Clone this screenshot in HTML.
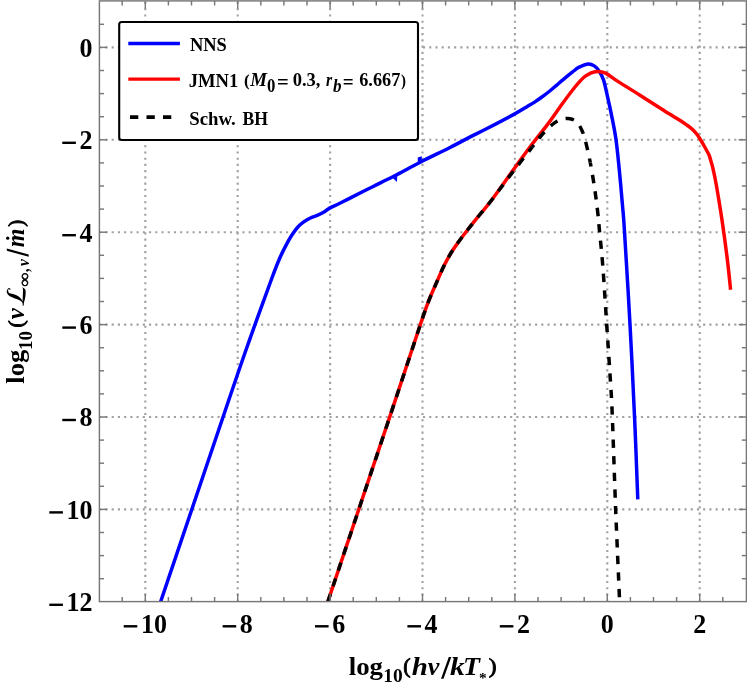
<!DOCTYPE html>
<html><head><meta charset="utf-8"><title>plot</title>
<style>
html,body{margin:0;padding:0;background:#fff;}
body{width:747px;height:685px;overflow:hidden;font-family:"Liberation Serif",serif;}
svg{display:block;will-change:transform;}
text{font-family:"Liberation Serif",serif;fill:#000;}
</style></head><body>
<svg width="747" height="685" viewBox="0 0 747 685">
<rect x="0" y="0" width="747" height="685" fill="#fff"/>
<defs><clipPath id="cp"><rect x="99.40" y="0.90" width="647.00" height="600.70"/></clipPath></defs>

<g stroke="#a0a0a0" stroke-width="2.1" stroke-dasharray="2.1 4.1263" stroke-dashoffset="1.05" fill="none">
<line x1="145.30" y1="600.75" x2="145.30" y2="0.90"/>
<line x1="237.70" y1="600.75" x2="237.70" y2="0.90"/>
<line x1="330.10" y1="600.75" x2="330.10" y2="0.90"/>
<line x1="422.50" y1="600.75" x2="422.50" y2="0.90"/>
<line x1="514.90" y1="600.75" x2="514.90" y2="0.90"/>
<line x1="607.30" y1="600.75" x2="607.30" y2="0.90"/>
<line x1="699.70" y1="600.75" x2="699.70" y2="0.90"/>
<line x1="100.25" y1="509.40" x2="746.40" y2="509.40"/>
<line x1="100.25" y1="417.00" x2="746.40" y2="417.00"/>
<line x1="100.25" y1="324.60" x2="746.40" y2="324.60"/>
<line x1="100.25" y1="232.20" x2="746.40" y2="232.20"/>
<line x1="100.25" y1="139.80" x2="746.40" y2="139.80"/>
<line x1="100.25" y1="47.40" x2="746.40" y2="47.40"/>
</g>
<g clip-path="url(#cp)" fill="none" stroke-linejoin="round">
<path d="M159.00,606.50 C159.28,605.67 149.07,635.92 160.70,601.50 C172.33,567.08 213.92,443.82 228.80,400.00 C243.68,356.18 242.93,358.60 250.00,338.60 C257.07,318.60 266.25,293.38 271.20,280.00 C276.15,266.62 276.86,264.77 279.70,258.30 C282.54,251.83 285.95,245.47 288.25,241.20 C290.55,236.93 291.86,235.10 293.50,232.70 C295.14,230.30 296.45,228.55 298.10,226.80 C299.75,225.05 301.43,223.62 303.40,222.20 C305.37,220.77 307.50,219.42 309.90,218.25 C312.30,217.08 315.60,216.14 317.80,215.20 C320.00,214.26 321.35,213.63 323.10,212.60 C324.85,211.57 326.88,209.92 328.30,209.00 C329.72,208.08 329.85,207.97 331.60,207.10 C333.35,206.23 335.73,205.30 338.80,203.80 C341.87,202.30 344.35,200.95 350.00,198.10 C355.65,195.25 365.33,190.38 372.70,186.70 C380.07,183.02 386.28,180.08 394.20,176.00 C402.12,171.92 410.90,166.95 420.20,162.20 C429.50,157.45 441.58,151.77 450.00,147.50 C458.42,143.23 464.70,139.68 470.70,136.60 C476.70,133.52 478.58,132.83 486.00,129.00 C493.42,125.17 508.32,117.35 515.20,113.60 C522.08,109.85 524.07,108.42 527.30,106.50 C530.53,104.58 532.17,103.68 534.60,102.10 C537.03,100.52 539.47,98.77 541.90,97.00 C544.33,95.23 546.77,93.45 549.20,91.50 C551.63,89.55 554.07,87.37 556.50,85.30 C558.93,83.23 561.55,80.98 563.80,79.10 C566.05,77.22 568.10,75.55 570.00,74.00 C571.90,72.45 573.60,70.98 575.20,69.80 C576.80,68.62 577.43,67.87 579.60,66.90 C581.77,65.93 585.70,64.13 588.20,64.00 C590.70,63.87 592.80,64.95 594.60,66.10 C596.40,67.25 597.52,68.60 599.00,70.90 C600.48,73.20 602.13,75.85 603.50,79.90 C604.87,83.95 605.92,89.58 607.20,95.20 C608.48,100.82 609.77,106.43 611.20,113.60 C612.63,120.77 614.47,129.00 615.80,138.20 C617.13,147.40 618.08,157.57 619.20,168.80 C620.32,180.03 621.63,195.40 622.50,205.60 C623.37,215.80 623.15,210.20 624.40,230.00 C625.65,249.80 628.28,292.68 630.00,324.40 C631.72,356.12 633.40,391.13 634.70,420.30 C636.00,449.47 637.28,486.22 637.80,499.40" stroke="#0000ff" stroke-width="3.5"/>
<path d="M417.75,162 L417.75,157.45 L421.8,156.2 L421.8,160.5z M392.85,177.9 L397.3,176.0 L396.9,181.95z" fill="#0000ff" stroke="none"/>
<path d="M326.20,606.50 C326.48,605.67 316.93,634.23 327.90,601.50 C338.87,568.77 376.55,456.38 392.00,410.10 C407.45,363.82 414.52,341.90 420.60,323.80 C426.68,305.70 425.90,308.23 428.50,301.50 C431.10,294.77 433.63,289.32 436.20,283.40 C438.77,277.48 441.33,271.23 443.90,266.00 C446.47,260.77 449.05,256.17 451.60,252.00 C454.15,247.83 456.48,244.75 459.20,241.00 C461.92,237.25 464.52,233.83 467.90,229.50 C471.28,225.17 475.53,219.92 479.50,215.00 C483.47,210.08 485.75,207.95 491.70,200.00 C497.65,192.05 508.48,176.58 515.20,167.30 C521.92,158.02 526.63,151.42 532.00,144.30 C537.37,137.18 542.28,131.45 547.40,124.60 C552.52,117.75 558.10,109.47 562.70,103.20 C567.30,96.93 571.42,91.37 575.00,87.00 C578.58,82.63 581.65,79.28 584.20,77.00 C586.75,74.72 588.15,74.23 590.30,73.30 C592.45,72.37 594.55,71.43 597.10,71.40 C599.65,71.37 602.13,71.43 605.60,73.10 C609.07,74.77 612.17,77.72 617.90,81.40 C623.63,85.08 632.98,90.77 640.00,95.20 C647.02,99.63 655.00,104.82 660.00,108.00 C665.00,111.18 666.63,112.22 670.00,114.30 C673.37,116.38 676.80,118.27 680.20,120.50 C683.60,122.73 687.67,125.48 690.40,127.70 C693.13,129.92 695.07,132.03 696.60,133.80 C698.13,135.57 698.38,136.35 699.60,138.30 C700.82,140.25 702.45,142.97 703.90,145.50 C705.35,148.03 707.38,151.77 708.30,153.50 C709.22,155.23 708.97,154.65 709.40,155.90 C709.83,157.15 710.25,158.65 710.90,161.00 C711.55,163.35 712.40,166.00 713.30,170.00 C714.20,174.00 714.85,176.67 716.30,185.00 C717.75,193.33 720.15,207.50 722.00,220.00 C723.85,232.50 725.97,248.37 727.40,260.00 C728.83,271.63 730.07,284.83 730.60,289.80" stroke="#ff0000" stroke-width="3.5"/>
<path d="M326.20,606.50 C326.48,605.67 316.93,634.23 327.90,601.50 C338.87,568.77 376.55,456.38 392.00,410.10 C407.45,363.82 414.52,341.90 420.60,323.80 C426.68,305.70 425.90,308.23 428.50,301.50 C431.10,294.77 433.63,289.32 436.20,283.40 C438.77,277.48 441.33,271.23 443.90,266.00 C446.47,260.77 449.05,256.17 451.60,252.00 C454.15,247.83 456.48,244.75 459.20,241.00 C461.92,237.25 464.52,233.83 467.90,229.50 C471.28,225.17 475.53,219.92 479.50,215.00 C483.47,210.08 486.95,206.12 491.70,200.00 C496.45,193.88 503.25,184.55 508.00,178.30 C512.75,172.05 516.15,167.72 520.20,162.50 C524.25,157.28 528.78,151.50 532.30,147.00" stroke="#000000" stroke-width="3.5" stroke-dasharray="8.3 8.3" stroke-dashoffset="5.70"/>
<path d="M532.30,147.00 C535.82,142.50 538.05,139.17 541.30,135.50 C544.55,131.83 548.68,127.60 551.80,125.00 C554.92,122.40 557.27,120.98 560.00,119.90 C562.73,118.82 565.48,118.23 568.20,118.50 C570.92,118.77 574.05,119.60 576.30,121.50 C578.55,123.40 580.20,126.75 581.70,129.90 C583.20,133.05 583.87,134.93 585.30,140.40 C586.73,145.87 588.70,154.38 590.30,162.70" stroke="#000000" stroke-width="3.5" stroke-dasharray="8.524 8.524" stroke-dashoffset="6.231"/>
<path d="M590.30,162.70 C591.90,171.02 593.62,181.62 594.90,190.30 C596.18,198.98 597.25,208.18 598.00,214.80 C598.75,221.42 598.60,221.47 599.40,230.00 C600.20,238.53 601.58,250.27 602.80,266.00 C604.02,281.73 605.50,306.33 606.70,324.40 C607.90,342.47 609.08,359.58 610.00,374.40 C610.92,389.22 611.27,391.07 612.20,413.30 C613.13,435.53 614.40,477.23 615.60,507.80 C616.80,538.37 618.72,580.33 619.40,596.70 C620.08,613.07 619.65,604.45 619.70,606.00" stroke="#000000" stroke-width="3.5" stroke-dasharray="8.3 8.3" stroke-dashoffset="4.20"/>
</g>
<g stroke="#787878" stroke-width="1.45" fill="none">
<rect x="99.40" y="0.90" width="647.00" height="600.70"/>
<line x1="122.20" y1="601.60" x2="122.20" y2="597.00"/>
<line x1="122.20" y1="0.90" x2="122.20" y2="5.50"/>
<line x1="145.30" y1="601.60" x2="145.30" y2="593.80"/>
<line x1="145.30" y1="0.90" x2="145.30" y2="8.70"/>
<line x1="168.40" y1="601.60" x2="168.40" y2="597.00"/>
<line x1="168.40" y1="0.90" x2="168.40" y2="5.50"/>
<line x1="191.50" y1="601.60" x2="191.50" y2="597.00"/>
<line x1="191.50" y1="0.90" x2="191.50" y2="5.50"/>
<line x1="214.60" y1="601.60" x2="214.60" y2="597.00"/>
<line x1="214.60" y1="0.90" x2="214.60" y2="5.50"/>
<line x1="237.70" y1="601.60" x2="237.70" y2="593.80"/>
<line x1="237.70" y1="0.90" x2="237.70" y2="8.70"/>
<line x1="260.80" y1="601.60" x2="260.80" y2="597.00"/>
<line x1="260.80" y1="0.90" x2="260.80" y2="5.50"/>
<line x1="283.90" y1="601.60" x2="283.90" y2="597.00"/>
<line x1="283.90" y1="0.90" x2="283.90" y2="5.50"/>
<line x1="307.00" y1="601.60" x2="307.00" y2="597.00"/>
<line x1="307.00" y1="0.90" x2="307.00" y2="5.50"/>
<line x1="330.10" y1="601.60" x2="330.10" y2="593.80"/>
<line x1="330.10" y1="0.90" x2="330.10" y2="8.70"/>
<line x1="353.20" y1="601.60" x2="353.20" y2="597.00"/>
<line x1="353.20" y1="0.90" x2="353.20" y2="5.50"/>
<line x1="376.30" y1="601.60" x2="376.30" y2="597.00"/>
<line x1="376.30" y1="0.90" x2="376.30" y2="5.50"/>
<line x1="399.40" y1="601.60" x2="399.40" y2="597.00"/>
<line x1="399.40" y1="0.90" x2="399.40" y2="5.50"/>
<line x1="422.50" y1="601.60" x2="422.50" y2="593.80"/>
<line x1="422.50" y1="0.90" x2="422.50" y2="8.70"/>
<line x1="445.60" y1="601.60" x2="445.60" y2="597.00"/>
<line x1="445.60" y1="0.90" x2="445.60" y2="5.50"/>
<line x1="468.70" y1="601.60" x2="468.70" y2="597.00"/>
<line x1="468.70" y1="0.90" x2="468.70" y2="5.50"/>
<line x1="491.80" y1="601.60" x2="491.80" y2="597.00"/>
<line x1="491.80" y1="0.90" x2="491.80" y2="5.50"/>
<line x1="514.90" y1="601.60" x2="514.90" y2="593.80"/>
<line x1="514.90" y1="0.90" x2="514.90" y2="8.70"/>
<line x1="538.00" y1="601.60" x2="538.00" y2="597.00"/>
<line x1="538.00" y1="0.90" x2="538.00" y2="5.50"/>
<line x1="561.10" y1="601.60" x2="561.10" y2="597.00"/>
<line x1="561.10" y1="0.90" x2="561.10" y2="5.50"/>
<line x1="584.20" y1="601.60" x2="584.20" y2="597.00"/>
<line x1="584.20" y1="0.90" x2="584.20" y2="5.50"/>
<line x1="607.30" y1="601.60" x2="607.30" y2="593.80"/>
<line x1="607.30" y1="0.90" x2="607.30" y2="8.70"/>
<line x1="630.40" y1="601.60" x2="630.40" y2="597.00"/>
<line x1="630.40" y1="0.90" x2="630.40" y2="5.50"/>
<line x1="653.50" y1="601.60" x2="653.50" y2="597.00"/>
<line x1="653.50" y1="0.90" x2="653.50" y2="5.50"/>
<line x1="676.60" y1="601.60" x2="676.60" y2="597.00"/>
<line x1="676.60" y1="0.90" x2="676.60" y2="5.50"/>
<line x1="699.70" y1="601.60" x2="699.70" y2="593.80"/>
<line x1="699.70" y1="0.90" x2="699.70" y2="8.70"/>
<line x1="722.80" y1="601.60" x2="722.80" y2="597.00"/>
<line x1="722.80" y1="0.90" x2="722.80" y2="5.50"/>
<line x1="99.40" y1="578.70" x2="104.00" y2="578.70"/>
<line x1="746.40" y1="578.70" x2="741.80" y2="578.70"/>
<line x1="99.40" y1="555.60" x2="104.00" y2="555.60"/>
<line x1="746.40" y1="555.60" x2="741.80" y2="555.60"/>
<line x1="99.40" y1="532.50" x2="104.00" y2="532.50"/>
<line x1="746.40" y1="532.50" x2="741.80" y2="532.50"/>
<line x1="99.40" y1="509.40" x2="107.20" y2="509.40"/>
<line x1="746.40" y1="509.40" x2="738.60" y2="509.40"/>
<line x1="99.40" y1="486.30" x2="104.00" y2="486.30"/>
<line x1="746.40" y1="486.30" x2="741.80" y2="486.30"/>
<line x1="99.40" y1="463.20" x2="104.00" y2="463.20"/>
<line x1="746.40" y1="463.20" x2="741.80" y2="463.20"/>
<line x1="99.40" y1="440.10" x2="104.00" y2="440.10"/>
<line x1="746.40" y1="440.10" x2="741.80" y2="440.10"/>
<line x1="99.40" y1="417.00" x2="107.20" y2="417.00"/>
<line x1="746.40" y1="417.00" x2="738.60" y2="417.00"/>
<line x1="99.40" y1="393.90" x2="104.00" y2="393.90"/>
<line x1="746.40" y1="393.90" x2="741.80" y2="393.90"/>
<line x1="99.40" y1="370.80" x2="104.00" y2="370.80"/>
<line x1="746.40" y1="370.80" x2="741.80" y2="370.80"/>
<line x1="99.40" y1="347.70" x2="104.00" y2="347.70"/>
<line x1="746.40" y1="347.70" x2="741.80" y2="347.70"/>
<line x1="99.40" y1="324.60" x2="107.20" y2="324.60"/>
<line x1="746.40" y1="324.60" x2="738.60" y2="324.60"/>
<line x1="99.40" y1="301.50" x2="104.00" y2="301.50"/>
<line x1="746.40" y1="301.50" x2="741.80" y2="301.50"/>
<line x1="99.40" y1="278.40" x2="104.00" y2="278.40"/>
<line x1="746.40" y1="278.40" x2="741.80" y2="278.40"/>
<line x1="99.40" y1="255.30" x2="104.00" y2="255.30"/>
<line x1="746.40" y1="255.30" x2="741.80" y2="255.30"/>
<line x1="99.40" y1="232.20" x2="107.20" y2="232.20"/>
<line x1="746.40" y1="232.20" x2="738.60" y2="232.20"/>
<line x1="99.40" y1="209.10" x2="104.00" y2="209.10"/>
<line x1="746.40" y1="209.10" x2="741.80" y2="209.10"/>
<line x1="99.40" y1="186.00" x2="104.00" y2="186.00"/>
<line x1="746.40" y1="186.00" x2="741.80" y2="186.00"/>
<line x1="99.40" y1="162.90" x2="104.00" y2="162.90"/>
<line x1="746.40" y1="162.90" x2="741.80" y2="162.90"/>
<line x1="99.40" y1="139.80" x2="107.20" y2="139.80"/>
<line x1="746.40" y1="139.80" x2="738.60" y2="139.80"/>
<line x1="99.40" y1="116.70" x2="104.00" y2="116.70"/>
<line x1="746.40" y1="116.70" x2="741.80" y2="116.70"/>
<line x1="99.40" y1="93.60" x2="104.00" y2="93.60"/>
<line x1="746.40" y1="93.60" x2="741.80" y2="93.60"/>
<line x1="99.40" y1="70.50" x2="104.00" y2="70.50"/>
<line x1="746.40" y1="70.50" x2="741.80" y2="70.50"/>
<line x1="99.40" y1="47.40" x2="107.20" y2="47.40"/>
<line x1="746.40" y1="47.40" x2="738.60" y2="47.40"/>
<line x1="99.40" y1="24.30" x2="104.00" y2="24.30"/>
<line x1="746.40" y1="24.30" x2="741.80" y2="24.30"/>
</g>
<g font-size="26.0" font-weight="bold">
<rect x="123.70" y="625.10" width="13.60" height="2.40"/>
<text transform="translate(140.90,632.60) scale(1,1.055)" text-anchor="start">10</text>
<rect x="222.60" y="625.10" width="13.60" height="2.40"/>
<text transform="translate(239.80,632.60) scale(1,1.055)" text-anchor="start">8</text>
<rect x="315.00" y="625.10" width="13.60" height="2.40"/>
<text transform="translate(332.20,632.60) scale(1,1.055)" text-anchor="start">6</text>
<rect x="407.40" y="625.10" width="13.60" height="2.40"/>
<text transform="translate(424.60,632.60) scale(1,1.055)" text-anchor="start">4</text>
<rect x="499.80" y="625.10" width="13.60" height="2.40"/>
<text transform="translate(517.00,632.60) scale(1,1.055)" text-anchor="start">2</text>
<text transform="translate(607.30,632.60) scale(1,1.055)" text-anchor="middle">0</text>
<text transform="translate(699.70,632.60) scale(1,1.055)" text-anchor="middle">2</text>
<text transform="translate(92.50,611.10) scale(1,1.055)" text-anchor="end">12</text>
<rect x="49.30" y="603.60" width="13.60" height="2.40"/>
<text transform="translate(92.50,518.70) scale(1,1.055)" text-anchor="end">10</text>
<rect x="49.30" y="511.20" width="13.60" height="2.40"/>
<text transform="translate(92.50,426.30) scale(1,1.055)" text-anchor="end">8</text>
<rect x="62.30" y="418.80" width="13.60" height="2.40"/>
<text transform="translate(92.50,333.90) scale(1,1.055)" text-anchor="end">6</text>
<rect x="62.30" y="326.40" width="13.60" height="2.40"/>
<text transform="translate(92.50,241.50) scale(1,1.055)" text-anchor="end">4</text>
<rect x="62.30" y="234.00" width="13.60" height="2.40"/>
<text transform="translate(92.50,149.10) scale(1,1.055)" text-anchor="end">2</text>
<rect x="62.30" y="141.60" width="13.60" height="2.40"/>
<text transform="translate(92.50,56.70) scale(1,1.055)" text-anchor="end">0</text>
</g>
<g id="xl">
<text transform="translate(348.68,674.80) scale(1.0481,1.0000)" font-size="25.60" font-weight="bold">log</text>
<text transform="translate(383.14,681.80) scale(0.9951,1.0000)" font-size="19.60" font-weight="bold">10</text>
<text transform="translate(403.37,673.15) scale(0.8536,0.8314)" font-size="26.00" font-weight="normal" stroke="#000" stroke-width="1.07" stroke-linejoin="round">(</text>
<text transform="translate(411.73,674.80) scale(1.1140,1.0000)" font-size="26.00" font-weight="bold" font-style="italic">h</text>
<text transform="translate(427.66,674.80) scale(1.0063,1.0000)" font-size="26.00" font-weight="bold" font-style="italic">ν</text>
<polygon points="441.0,678.8 443.5,678.8 451.3,657.1 448.8,657.1"/>
<text transform="translate(450.00,674.80) scale(1.1333,1.0000)" font-size="26.00" font-weight="bold" font-style="italic">k</text>
<text transform="translate(463.09,674.80) scale(1.0646,1.0000)" font-size="26.00" font-weight="bold" font-style="italic">T</text>
<text transform="translate(479.06,682.92) scale(0.5903,0.5612)" font-size="26.00" font-weight="bold">*</text>
<text transform="translate(488.70,673.15) scale(0.8985,0.8314)" font-size="26.00" font-weight="normal" stroke="#000" stroke-width="1.04" stroke-linejoin="round">)</text>
</g>
<g id="yl" transform="translate(24.2,383.5) rotate(-90)">
<text transform="translate(-0.22,0.00) scale(1.0387,1.0000)" font-size="25.60" font-weight="bold">log</text>
<text transform="translate(33.57,7.60) scale(0.9720,1.0000)" font-size="19.60" font-weight="bold">10</text>
<text transform="translate(56.01,-1.61) scale(0.8236,0.8059)" font-size="26.00" font-weight="normal" stroke="#000" stroke-width="1.10" stroke-linejoin="round">(</text>
<text transform="translate(64.17,0.00) scale(0.9629,1.0000)" font-size="26.00" font-weight="bold" font-style="italic">ν</text>
<path transform="translate(77.63,1.67)" d="M12.48,-18.6 C13.5,-19.3 14.8,-19.3 15.55,-18.8 C16.8,-18.3 17.9,-17.8 17.96,-16.9 C18.0,-16.0 17.2,-15.2 16.43,-15.3 L16.0,-15.8 C16.5,-16.2 16.9,-16.8 16.6,-17.3 C16.2,-17.9 15.6,-17.9 15.1,-17.7 C14.2,-17.5 13.7,-17.5 13.36,-17.3 C12.7,-16.6 12.4,-15.8 12.26,-15.1 C11.9,-13.5 11.6,-12.2 11.17,-10.7 C10.8,-9.4 10.2,-8.3 9.42,-7.2 C8.6,-6.1 7.8,-5.3 6.79,-4.6 C6.0,-4.0 5.3,-3.6 4.6,-3.3 C6,-3.2 8,-3.1 9.4,-3.07 C11.5,-3.0 13.5,-2.9 15.1,-2.85 C16.5,-2.8 17.8,-3.0 18.6,-3.5 C17.9,-1.6 16.6,-0.4 15.1,-0.25 C13,-0.1 11,-0.3 9.4,-0.5 C7.5,-0.75 5.8,-1.2 4.16,-1.7 C2.8,-2.1 1.2,-2.3 0,-2.2 L0,-3.07 C1.2,-3.2 2.3,-3.3 3.29,-3.5 C4.0,-4.1 4.6,-4.8 5.04,-5.5 C5.8,-6.8 6.3,-8.1 6.79,-9.4 C7.4,-11 7.9,-12.5 8.54,-13.8 C9.1,-15.1 9.8,-16.3 10.73,-17.3 C11.2,-17.8 11.8,-18.3 12.48,-18.6 Z"/>
<text transform="translate(97.32,5.49) scale(0.7321,0.6766)" font-size="26.00" font-weight="bold" stroke="#000" stroke-width="0.71" stroke-linejoin="round">∞</text>
<text transform="translate(111.61,4.42) scale(0.5419,0.7647)" font-size="26.00" font-weight="bold">,</text>
<text transform="translate(117.46,4.50) scale(0.9295,1.0000)" font-size="16.50" font-weight="bold" font-style="italic">ν</text>
<polygon points="126.7,4.5 128.9,4.5 135.0,-17.4 132.8,-17.4"/>
<text transform="translate(136.24,0.00) scale(0.9251,1.0000)" font-size="26.00" font-weight="bold" font-style="italic">m</text>
<circle cx="145.3" cy="-16.5" r="1.65"/>
<text transform="translate(156.78,-1.68) scale(0.7937,0.8187)" font-size="26.00" font-weight="normal" stroke="#000" stroke-width="1.12" stroke-linejoin="round">)</text>
</g>
<rect x="119.2" y="22" width="298.8" height="118" rx="2.5" fill="#fff" stroke="#000" stroke-width="2.1"/>
<line x1="128.3" y1="43.5" x2="179.9" y2="43.5" stroke="#0000ff" stroke-width="3.4"/>
<line x1="128.3" y1="79.1" x2="179.9" y2="79.1" stroke="#ff0000" stroke-width="3.4"/>
<line x1="130.0" y1="117.2" x2="172" y2="117.2" stroke="#000" stroke-width="3.7" stroke-dasharray="8.3 8.2"/>
<g id="lg">
<text transform="translate(189.95,50.80) scale(1.0145,1.0000)" font-size="18.20" font-weight="bold">NNS</text>
<text transform="translate(188.67,86.60) scale(1.0220,1.0000)" font-size="18.20" font-weight="bold">JMN1</text>
<text transform="translate(244.05,85.87) scale(0.6589,0.6023)" font-size="26.00" font-weight="bold">(</text>
<text transform="translate(250.25,86.40) scale(1.0510,1.0000)" font-size="17.90" font-weight="bold" font-style="italic">M</text>
<text transform="translate(266.96,91.60) scale(0.8958,1.0000)" font-size="18.70" font-weight="bold">0</text>
<text transform="translate(276.97,89.00) scale(1.1044,1.0700)" font-size="18.70" font-weight="bold">=</text>
<text transform="translate(292.69,86.30) scale(1.0188,1.0000)" font-size="18.20" font-weight="bold">0.3,</text>
<text transform="translate(325.98,86.30) scale(0.8622,1.0000)" font-size="18.20" font-weight="bold" font-style="italic">r</text>
<text transform="translate(332.97,91.80) scale(0.9127,1.0000)" font-size="18.70" font-weight="bold" font-style="italic">b</text>
<text transform="translate(342.75,89.00) scale(1.0239,1.0700)" font-size="18.70" font-weight="bold">=</text>
<text transform="translate(359.17,86.30) scale(1.0054,1.0000)" font-size="18.20" font-weight="bold">6.667</text>
<text transform="translate(401.12,85.87) scale(0.5691,0.6023)" font-size="26.00" font-weight="bold">)</text>
<text transform="translate(189.20,124.90) scale(1.0328,1.0000)" font-size="18.20" font-weight="bold">Schw.</text>
<text transform="translate(242.51,124.90) scale(0.9692,1.0000)" font-size="18.20" font-weight="bold">BH</text>
</g>
</svg>
</body></html>
